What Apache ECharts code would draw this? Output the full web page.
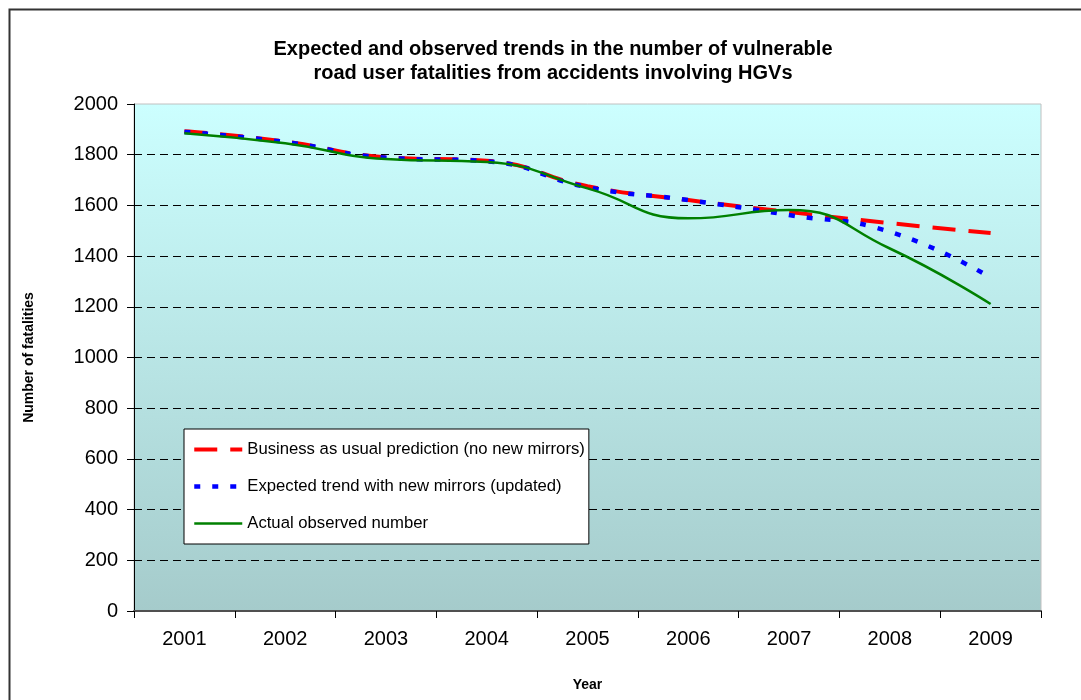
<!DOCTYPE html>
<html>
<head>
<meta charset="utf-8">
<script src="https://cdn.jsdelivr.net/npm/echarts@6/dist/echarts.min.js"></script>
<style>
  html, body { margin: 0; padding: 0; background: #fff; }
  #chart { width: 1081px; height: 700px; }
</style>
</head>
<body>
<div id="chart"></div>
<script>
// values
const years = ['2001', '2002', '2003', '2004', '2005', '2006', '2007', '2008', '2009'];
const businessAsUsual = [1893, 1852, 1790, 1776, 1676, 1621, 1574, 1530, 1491];
const withNewMirrors  = [1890, 1850, 1788, 1774, 1672, 1621, 1562, 1496, 1315];
const actualObserved  = [1885, 1845, 1783, 1771, 1667, 1549, 1582, 1430, 1211];

const FONT = '"Liberation Sans", Arial, sans-serif';

const chart = echarts.init(document.getElementById('chart'));

chart.setOption({
  animation: false,
  backgroundColor: '#fff',
  textStyle: { fontFamily: FONT, color: '#000' },
  title: {
    text: 'Expected and observed trends in the number of vulnerable\nroad user fatalities from accidents involving HGVs',
    left: 548, top: 32, textAlign: 'center',
    textStyle: { fontFamily: FONT, fontSize: 20, fontWeight: 'bold', lineHeight: 24, color: '#000' }
  },
  graphic: [{
    type: 'rect',
    shape: { x: 9.5, y: 9.5, width: 1200, height: 1000 },
    style: { fill: 'none', stroke: '#333', lineWidth: 2 },
    silent: true
  }],
  grid: {
    left: 134, top: 104, right: 40, bottom: 89,
    show: true,
    borderColor: '#c0c0c0', borderWidth: 1,
    backgroundColor: new echarts.graphic.LinearGradient(0, 0, 0, 1, [
      { offset: 0, color: '#ccffff' },
      { offset: 1, color: '#a5cbcb' }
    ])
  },
  legend: {
    orient: 'vertical',
    left: 184, top: 429,
    padding: [12, 4, 12, 8],
    itemWidth: 48, itemHeight: 14, itemGap: 20,
    backgroundColor: '#fff',
    borderColor: '#000', borderWidth: 1,
    itemStyle: { opacity: 0 },
    lineStyle: { width: 'inherit' },
    textStyle: { fontFamily: FONT, fontSize: 16.7, color: '#000' },
    data: [
      'Business as usual prediction (no new mirrors)',
      'Expected trend with new mirrors (updated)',
      'Actual observed number'
    ]
  },
  xAxis: {
    type: 'category',
    data: years,
    boundaryGap: true,
    name: 'Year', nameLocation: 'middle', nameGap: 67,
    nameTextStyle: { fontFamily: FONT, fontSize: 14, fontWeight: 'bold', color: '#000' },
    axisLine: { lineStyle: { color: '#505050', width: 2 } },
    axisTick: { show: true, length: 7, inside: false, alignWithLabel: false, lineStyle: { color: '#000' } },
    axisLabel: { fontFamily: FONT, fontSize: 20, color: '#000', margin: 18 },
    splitLine: { show: false }
  },
  yAxis: {
    type: 'value',
    min: 0, max: 2000, interval: 200,
    name: 'Number of fatalities', nameLocation: 'middle', nameGap: 98, nameRotate: 90,
    nameTextStyle: { fontFamily: FONT, fontSize: 14, fontWeight: 'bold', color: '#000' },
    axisLine: { show: true, lineStyle: { color: '#000', width: 1 } },
    axisTick: { show: true, length: 7, lineStyle: { color: '#000' } },
    axisLabel: { fontFamily: FONT, fontSize: 20, color: '#000', margin: 16, formatter: v => String(v) },
    splitLine: {
      show: true, showMinLine: false, showMaxLine: false,
      lineStyle: { color: '#000', width: 1, type: [8, 5] }
    }
  },
  series: [
    {
      name: 'Business as usual prediction (no new mirrors)',
      type: 'line', data: businessAsUsual, smooth: true,
      symbol: 'none',
      lineStyle: { color: '#ff0000', width: 4, type: [23, 13] },
      itemStyle: { color: '#ff0000' }
    },
    {
      name: 'Expected trend with new mirrors (updated)',
      type: 'line', data: withNewMirrors, smooth: true,
      symbol: 'none',
      lineStyle: { color: '#0000ff', width: 4.5, type: [6, 12] },
      itemStyle: { color: '#0000ff' }
    },
    {
      name: 'Actual observed number',
      type: 'line', data: actualObserved, smooth: true,
      symbol: 'none',
      lineStyle: { color: '#008000', width: 2.5 },
      itemStyle: { color: '#008000' }
    }
  ]
});

window.addEventListener('resize', () => chart.resize());
</script>
</body>
</html>
